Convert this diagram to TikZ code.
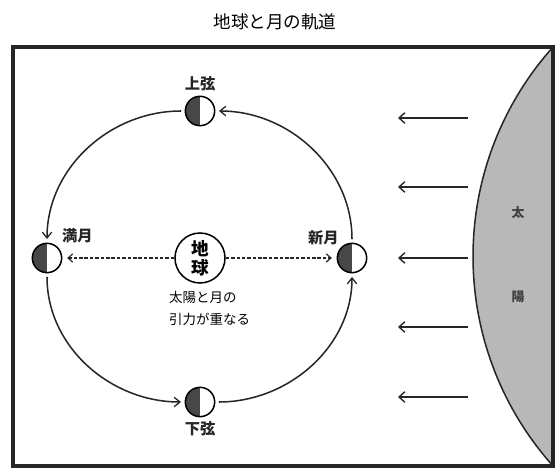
\documentclass[tikz,border=0pt]{standalone}
\usepackage{fontspec}
\setmainfont{Noto Sans CJK JP}
\usetikzlibrary{arrows.meta}

\begin{document}
\begin{tikzpicture}[x=0.03cm, y=0.03cm]
        \tikzset{
            moon/.style={circle, draw, line width=1.3pt, minimum size=0.88cm, inner sep=0pt,
                path picture={\fill[black!72] (path picture bounding box.south west) rectangle (path picture bounding box.north);}},
            tag/.style={font=\fontsize{13}{14}\selectfont\bfseries, text=black!85},
            orbit/.style={line width=1.3pt, black!85, shorten <=3pt, shorten >=3pt,
                -{Straight Barb[length=5pt, width=8pt, line width=1.1pt]}},
            pull/.style={line width=1.2pt, black!85, dash pattern=on 3pt off 1.6pt, shorten >=4pt,
                -{Straight Barb[length=4pt, width=7pt, line width=1pt]}},
            ray/.style={line width=1.4pt, black!85, -{Straight Barb[length=5pt, width=9pt, line width=1.2pt]}},
            suntext/.style={font=\fontsize{11}{12}\selectfont\bfseries, text=black!75}
        }
        \useasboundingbox (0,0) rectangle (555,473);

        % Title
        \node (title) at (275,451) {\fontsize{15}{17}\selectfont 地球と月の軌道};

        % Sun on the right edge
        \fill[black!28] (553,426) arc[start angle=138.2, end angle=221.8, radius=314.3] -- cycle;
        \draw[line width=1.3pt, black!85] (553,426) arc[start angle=138.2, end angle=221.8, radius=314.3];
        \node[suntext] (sun1) at (518,260) {太};
        \node[suntext] (sun2) at (518,176) {陽};

        % Frame
        \draw[line width=2.6pt, black!85] (13,7) rectangle (553,426);

        % Sunlight
        \foreach \y [count=\i] in {355,286,215,146,76} {
            \coordinate (ray\i a) at (468,\y);
            \coordinate (ray\i b) at (398,\y);
            \draw[ray] (ray\i a) -- (ray\i b);
        }

        % Earth and caption
        \node[circle, draw, line width=1.3pt, minimum size=1.5cm, inner sep=0pt, align=center,
              font=\fontsize{15}{16.5}\selectfont\bfseries] (earth) at (200,215) {地\\球};
        \node[anchor=north west, align=left, font=\fontsize{11.5}{18.8}\selectfont] (note) at (165,186)
            {太陽と月の\\引力が重なる};

        % Moon phases
        \node[moon, label={[tag]above:上弦}] (first) at (200,362) {};
        \node[moon, label={[tag]45:満月}] (full) at (47,215) {};
        \node[moon, label={[tag, label distance=-2pt]135:新月}] (new) at (352,215) {};
        \node[moon, label={[tag]below:下弦}] (last) at (200,71) {};

        % Orbit
        \draw[orbit] (new) to[out=90, in=0] (first);
        \draw[orbit] (first) to[out=180, in=90] (full);
        \draw[orbit] (full) to[out=-90, in=180] (last);
        \draw[orbit] (last) to[out=0, in=-90] (new);

        % Pull of sun and moon
        \draw[pull] (earth) -- (full);
        \draw[pull] (earth) -- (new);
\end{tikzpicture}
\end{document}
